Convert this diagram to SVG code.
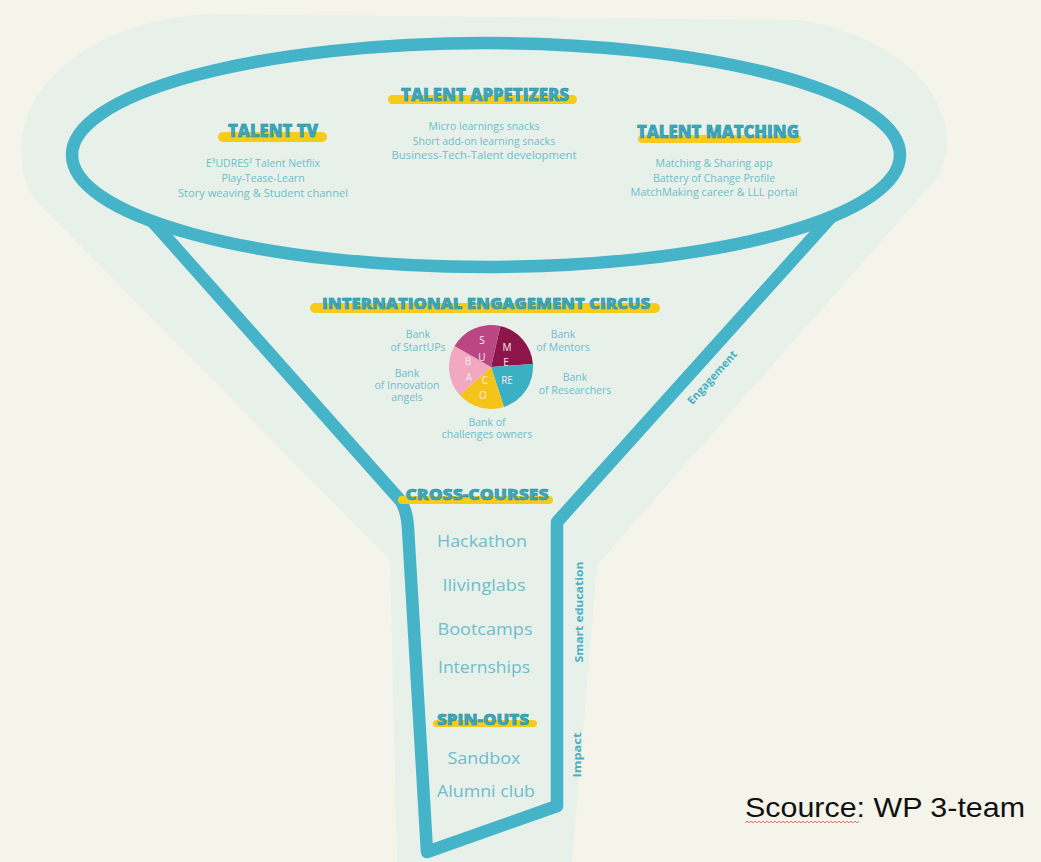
<svg xmlns="http://www.w3.org/2000/svg" width="1041" height="862" viewBox="0 0 1041 862">
<style>
.h{font-family:"Open Sans","Liberation Sans",sans-serif;font-weight:800;fill:#3aa9be;stroke:#2b8690;stroke-width:0.5;text-anchor:middle}
.bar{fill:#f6cb1c}
.t{font-family:"Open Sans","Liberation Sans",sans-serif;fill:#6dbdcd;text-anchor:middle;font-size:10.5px}
.big{font-family:"Open Sans","Liberation Sans",sans-serif;fill:#6dbdcd;text-anchor:middle;font-size:16px}
.side{font-family:"Open Sans","Liberation Sans",sans-serif;font-weight:700;fill:#4aaec4;text-anchor:middle;font-size:11px}
.lt{font-family:"Open Sans","Liberation Sans",sans-serif;fill:#f8e8ef;text-anchor:middle;font-size:10px}
.ln{fill:none;stroke:#45b3c8;stroke-width:12.5;stroke-linejoin:round}
</style>
<rect width="1041" height="862" fill="#f5f4ea"/>
<path d="M205,14 L800,20 C890,35 945,85 947,140 C947,160 942,172 935,180 L597,565 L572,862 L397,862 L390,560 L40,205 C25,190 20,170 22,140 C30,70 110,20 205,14 Z" fill="#e7f1e9"/>
<g id="connectors">
<ellipse cx="486" cy="155" rx="414" ry="112" class="ln"/>
<path d="M152,221 L400,500 Q407,510 408,528 L427,852 L557,806 L557,522 L833,215" class="ln"/>
</g>
<g id="talent-appetizers">
<rect x="388" y="95" width="189" height="9" rx="4.5" class="bar"/>
<text x="485" y="101" class="h" font-size="17" textLength="168" lengthAdjust="spacingAndGlyphs">TALENT APPETIZERS</text>
<text x="484" y="130" class="t">Micro learnings snacks</text>
<text x="484" y="145" class="t">Short add-on learning snacks</text>
<text x="484" y="159" class="t" textLength="185" lengthAdjust="spacingAndGlyphs">Business-Tech-Talent development</text>
</g>
<g id="talent-tv">
<rect x="218" y="132" width="109" height="10" rx="5" class="bar"/>
<text x="273" y="137" class="h" font-size="17" textLength="90" lengthAdjust="spacingAndGlyphs">TALENT TV</text>
<text x="263" y="167" class="t">E³UDRES² Talent Netflix</text>
<text x="263" y="182" class="t">Play-Tease-Learn</text>
<text x="263" y="197" class="t" textLength="170" lengthAdjust="spacingAndGlyphs">Story weaving &amp; Student channel</text>
</g>
<g id="talent-matching">
<rect x="638" y="135" width="163" height="8" rx="4" class="bar"/>
<text x="718" y="138" class="h" font-size="17" textLength="162" lengthAdjust="spacingAndGlyphs">TALENT MATCHING</text>
<text x="714" y="167" class="t">Matching &amp; Sharing app</text>
<text x="714" y="182" class="t">Battery of Change Profile</text>
<text x="714" y="196" class="t" textLength="167" lengthAdjust="spacingAndGlyphs">MatchMaking career &amp; LLL portal</text>
</g>
<g id="engagement-circus">
<rect x="310" y="303" width="350" height="10" rx="5" class="bar"/>
<text x="486" y="309" class="h" font-size="16" textLength="328" lengthAdjust="spacingAndGlyphs">INTERNATIONAL ENGAGEMENT CIRCUS</text>
<path d="M491,367 L500.4,326.1 A42,42 0 0 1 532.9,364.1 Z" fill="#8e1549"/>
<path d="M491,367 L532.9,364.1 A42,42 0 0 1 504,406.9 Z" fill="#3bb0c4"/>
<path d="M491,367 L504,406.9 A42,42 0 0 1 459.8,395.1 Z" fill="#f6c418"/>
<path d="M491,367 L459.8,395.1 A42,42 0 0 1 454.6,346 Z" fill="#f3a8c1"/>
<path d="M491,367 L454.6,346 A42,42 0 0 1 500.4,326.1 Z" fill="#ba4683"/>
<text x="482" y="344" class="lt">S</text>
<text x="482" y="361" class="lt">U</text>
<text x="468" y="365" class="lt">B</text>
<text x="469" y="381" class="lt">A</text>
<text x="507" y="351" class="lt">M</text>
<text x="506" y="366" class="lt">E</text>
<text x="507" y="384" class="lt">RE</text>
<text x="485" y="384" class="lt">C</text>
<text x="483" y="399" class="lt">O</text>
<text x="418" y="338" class="t">Bank</text>
<text x="418" y="351" class="t">of StartUPs</text>
<text x="563" y="338" class="t">Bank</text>
<text x="563" y="351" class="t">of Mentors</text>
<text x="407" y="377" class="t">Bank</text>
<text x="407" y="389" class="t">of Innovation</text>
<text x="407" y="401" class="t">angels</text>
<text x="575" y="381" class="t">Bank</text>
<text x="575" y="394" class="t">of Researchers</text>
<text x="487" y="426" class="t">Bank  of</text>
<text x="487" y="438" class="t">challenges owners</text>
</g>
<g id="cross-courses">
<rect x="398" y="496" width="155" height="8" rx="4" class="bar"/>
<text x="477" y="500" class="h" font-size="16" textLength="143" lengthAdjust="spacingAndGlyphs">CROSS-COURSES</text>
<text x="482" y="547" class="big" textLength="90" lengthAdjust="spacingAndGlyphs">Hackathon</text>
<text x="484" y="591" class="big" textLength="83" lengthAdjust="spacingAndGlyphs">Ilivinglabs</text>
<text x="485" y="635" class="big" textLength="95" lengthAdjust="spacingAndGlyphs">Bootcamps</text>
<text x="484" y="673" class="big" textLength="92" lengthAdjust="spacingAndGlyphs">Internships</text>
</g>
<g id="spin-outs">
<rect x="433" y="720" width="104" height="7" rx="3.5" class="bar"/>
<text x="483" y="725" class="h" font-size="16" textLength="92" lengthAdjust="spacingAndGlyphs">SPIN-OUTS</text>
<text x="484" y="764" class="big" textLength="73" lengthAdjust="spacingAndGlyphs">Sandbox</text>
<text x="486" y="797" class="big" textLength="98" lengthAdjust="spacingAndGlyphs">Alumni club</text>
</g>
<g id="side-labels">
<text class="side" transform="translate(715,380) rotate(-48)" textLength="68" lengthAdjust="spacingAndGlyphs">Engagement</text>
<text class="side" transform="translate(583,612) rotate(-90)" textLength="101" lengthAdjust="spacingAndGlyphs">Smart education</text>
<text class="side" transform="translate(581,755) rotate(-90)" textLength="45" lengthAdjust="spacingAndGlyphs">Impact</text>
</g>
<g id="source">
<text x="745" y="817" font-family="Liberation Sans, Arial, sans-serif" font-size="28" fill="#111" textLength="280" lengthAdjust="spacingAndGlyphs">Scource: WP 3-team</text>
<path d="M745,823 l2,-2 l2,2 l2,-2 l2,2 l2,-2 l2,2 l2,-2 l2,2 l2,-2 l2,2 l2,-2 l2,2 l2,-2 l2,2 l2,-2 l2,2 l2,-2 l2,2 l2,-2 l2,2 l2,-2 l2,2 l2,-2 l2,2 l2,-2 l2,2 l2,-2 l2,2 l2,-2 l2,2 l2,-2 l2,2 l2,-2 l2,2 l2,-2 l2,2 l2,-2 l2,2 l2,-2 l2,2 l2,-2 l2,2 l2,-2 l2,2 l2,-2 l2,2 l2,-2 l2,2 l2,-2 l2,2 l2,-2 l2,2 l2,-2 l2,2 l2,-2 l2,2 l2,-2" fill="none" stroke="#d9534f" stroke-width="0.8"/>
</g>
</svg>
